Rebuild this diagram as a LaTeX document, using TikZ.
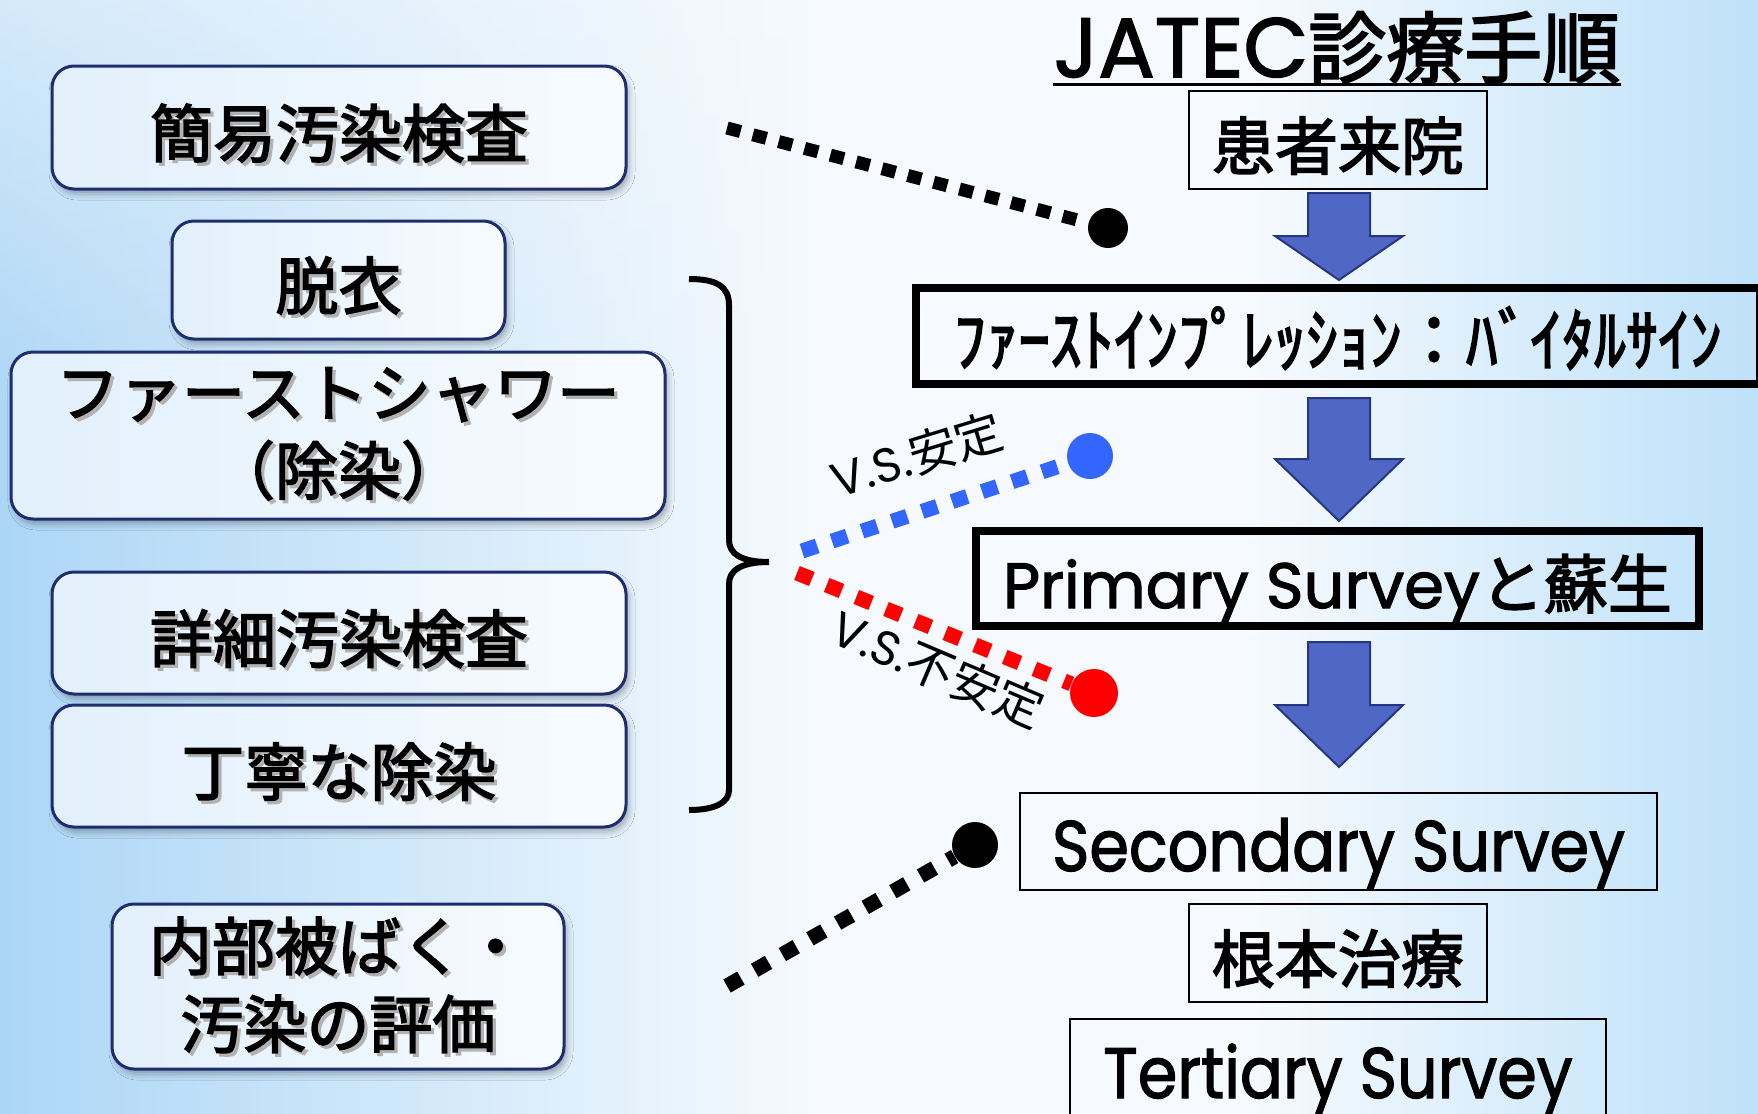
\documentclass[tikz,border=0pt]{standalone}
\usepackage{fontspec}
\setmainfont{Noto Sans CJK JP}
\newfontfamily\jp{Noto Sans CJK JP}[FakeBold=2.4]
\newfontfamily\jpl{Noto Sans CJK JP}
\newfontfamily\lat{Poppins}[FakeBold=1.8]
\newfontfamily\latl{Poppins}
\usetikzlibrary{shadows.blur,fadings}
\definecolor{bgbase}{RGB}{246,250,254}
\definecolor{bgleft}{RGB}{172,214,246}
\definecolor{bgright}{RGB}{190,225,249}
\definecolor{bgband}{RGB}{170,212,244}
\definecolor{navy}{RGB}{30,45,110}
\definecolor{boxL}{RGB}{226,240,252}
\definecolor{boxR}{RGB}{247,251,255}
\definecolor{arrowfill}{RGB}{79,104,198}
\definecolor{arrowline}{RGB}{38,54,128}
\definecolor{vsblue}{RGB}{51,102,255}
\definecolor{vsred}{RGB}{255,0,0}
\tikzfading[name=bandfade, top color=transparent!100, middle color=transparent!55, bottom color=transparent!100]
\tikzfading[name=cornerfade, top color=transparent!45, bottom color=transparent!100]
\newcommand\shd[1]{\leavevmode\rlap{\kern1.6pt\raisebox{-1.6pt}{\textcolor{black!30}{#1}}}#1}
\newcommand\latx[1]{{\lat #1}}
\begin{document}
\begin{tikzpicture}[x=0.5pt,y=-0.5pt,
  lbox/.style={draw=navy, line width=1.5pt, rounded corners=11pt,
    left color=boxL, right color=boxR,
    blur shadow={shadow xshift=1.5pt, shadow yshift=-2.5pt, shadow blur radius=3pt, shadow opacity=30},
    align=center, inner sep=0pt, font=\jp\fontsize{31.5pt}{39pt}\selectfont},
  onel/.style={text height=29.5pt, text depth=0pt},
  rbox/.style={draw=black, line width=1pt, inner sep=0pt, text height=29.5pt, text depth=0pt},
  jpf/.style={font=\jp\fontsize{31.5pt}{39pt}\selectfont},
  latf/.style={font=\lat\fontsize{32.5pt}{39pt}\selectfont},
  barrow/.style={fill=arrowfill, draw=arrowline, line width=1pt, line join=miter},
  dot/.style={circle, inner sep=0pt, draw=none},
  vslabel/.style={inner sep=0pt, font=\jpl\fontsize{24pt}{28pt}\selectfont}
]
\useasboundingbox (0,0) rectangle (1758,1114);
\clip (0,0) rectangle (1758,1114);
% background
\fill[bgbase] (0,0) rectangle (1758,1114);
\shade[left color=bgleft, right color=bgbase] (0,0) rectangle (820,1114);
\shade[left color=bgbase, right color=bgright] (1250,0) rectangle (1758,1114);
\fill[bgbase, path fading=cornerfade] (0,0) rectangle (820,420);
\fill[bgband, path fading=bandfade] (0,720) rectangle (1758,860);

% left column
\node[lbox, onel, minimum width=287pt, minimum height=61.5pt] (b1) at (339,127.5) {\shd{簡易汚染検査}};
\node[lbox, onel, minimum width=166.5pt, minimum height=59pt] (b2) at (338.5,280) {\shd{脱衣}};
\node[lbox, minimum width=327pt, minimum height=83.5pt] (b3) at (338,435.5) {\shd{ファーストシャワー}\\\shd{（除染）}};
\node[lbox, onel, minimum width=287pt, minimum height=61pt] (b4) at (339,633) {\shd{詳細汚染検査}};
\node[lbox, onel, minimum width=287pt, minimum height=61pt] (b5) at (339,766) {\shd{丁寧な除染}};
\node[lbox, minimum width=226pt, minimum height=82.5pt] (b6) at (338,986.5) {\shd{内部被ばく・}\\\shd{汚染の評価}};

% brace
\draw[line width=3pt] (689,279) .. controls (716,279) and (729,286) .. (729,305) -- (729,540)
  .. controls (729,553) and (740,562) .. (769,562)
  .. controls (740,562) and (729,571) .. (729,584) -- (729,790)
  .. controls (729,802) and (716,810) .. (689,810);

% right column
\node[inner sep=0pt, anchor=base, font=\jp\fontsize{39pt}{45pt}\selectfont] (title) at (1337,77)
  {\latx{\fontsize{42pt}{45pt}\selectfont JATEC}診療手順};
\draw[line width=1.5pt] ([yshift=-3.5pt]title.base west) -- ([yshift=-3.5pt]title.base east);

\node[rbox, jpf, minimum width=149pt, minimum height=49pt] (kanja) at (1338,140) {患者来院};
\node[rbox, line width=4pt, minimum width=422pt, minimum height=48pt,
  font=\jp\fontsize{32pt}{40pt}\selectfont] (vital) at (1338,336) {\scalebox{1}[1.08]{ﾌｧｰｽﾄｲﾝﾌﾟﾚｯｼｮﾝ：ﾊﾞｲﾀﾙｻｲﾝ}};
\node[rbox, line width=4pt, minimum width=361.5pt, minimum height=47.5pt,
  font=\jp\fontsize{32pt}{40pt}\selectfont] (primary) at (1337.5,578.5) {\latx{Primary Survey}と蘇生};
\node[rbox, latf, minimum width=318.5pt, minimum height=48.5pt] (second) at (1338.5,841.5) {\scalebox{0.98}[1.1]{Secondary Survey}};
\node[rbox, jpf, minimum width=149pt, minimum height=49pt] (konpon) at (1338,953) {根本治療};
\node[rbox, latf, minimum width=268pt, minimum height=49.5pt] (tert) at (1338,1068.5) {\scalebox{0.98}[1.1]{Tertiary Survey}};

% block arrows
\draw[barrow] (1308,193) -- (1370,193) -- (1370,236) -- (1403,236) -- (1339,280) -- (1275,236) -- (1308,236) -- cycle;
\draw[barrow] (1308,398) -- (1370,398) -- (1370,459) -- (1403,459) -- (1339,521) -- (1275,459) -- (1308,459) -- cycle;
\draw[barrow] (1308,642) -- (1370,642) -- (1370,705) -- (1403,705) -- (1339,767) -- (1275,705) -- (1308,705) -- cycle;

% dots and dotted connectors
\node[dot, fill=black, minimum size=20pt] (k1) at (1108,228) {};
\node[dot, fill=black, minimum size=23pt] (k2) at (975,845) {};
\node[dot, fill=vsblue, minimum size=23pt] (bl) at (1090,456) {};
\node[dot, fill=vsred, minimum size=24pt] (rd) at (1094,693) {};
\coordinate (s1) at (727,128);
\coordinate (s2) at (727,986);
\coordinate (sb) at (802,551);
\coordinate (sr) at (797,573);
\draw[line width=6.5pt, dash pattern=on 7pt off 6.35pt] (s1) -- (k1);
\draw[line width=7.5pt, dash pattern=on 8pt off 7.9pt] (s2) -- (k2);
\draw[vsblue, line width=7.5pt, dash pattern=on 8pt off 7.8pt] (sb) -- (bl);
\draw[vsred, line width=7.5pt, dash pattern=on 8pt off 8pt] (sr) -- (rd);

\node[vslabel, rotate=17] (lb) at (917,455) {{\latl V.S.}安定};
\node[vslabel, rotate=-23] (lr) at (938,669) {{\latl V.S.}不安定};
\end{tikzpicture}
\end{document}
